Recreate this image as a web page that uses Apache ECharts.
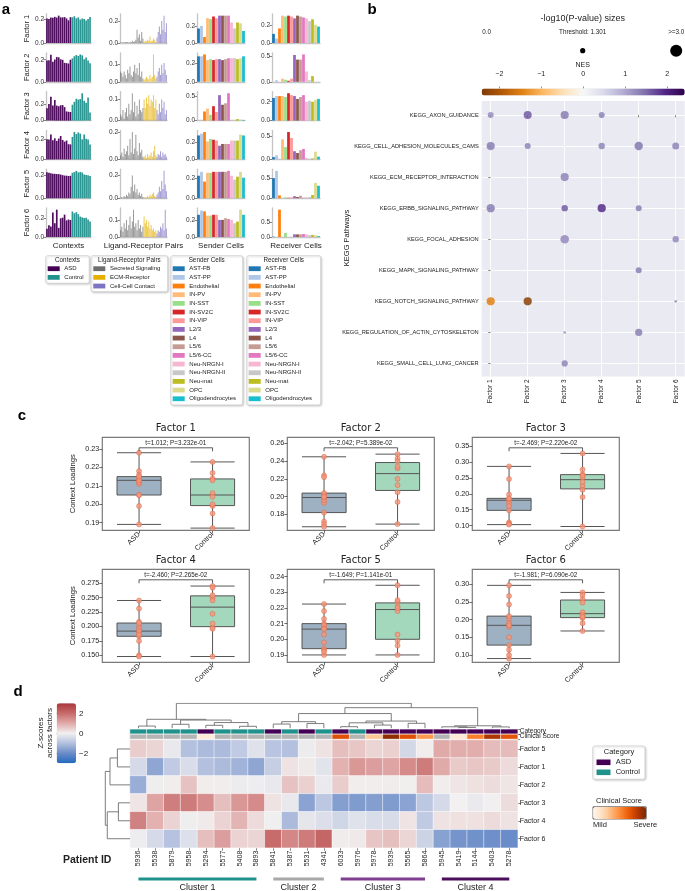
<!DOCTYPE html>
<html><head><meta charset="utf-8">
<script src="https://cdn.jsdelivr.net/npm/echarts@6/dist/echarts.min.js"></script>
<style>html,body{margin:0;padding:0;background:#fff}#c{width:685px;height:891px}</style>
</head><body><div id="c"></div>
<script>
// ================= DATA =================
const factorNames = ['Factor 1','Factor 2','Factor 3','Factor 4','Factor 5','Factor 6'];
const contextNames = ['ASD','Control'];
// context loadings per sample (panel a Contexts, panel c)
const asdF1 = [0.205,0.199,0.213,0.211,0.218,0.212,0.228,0.214,0.213,0.216,0.205,0.189,0.215];
const ctrlF1 = [0.214,0.223,0.206,0.213,0.195,0.204,0.199,0.187,0.200,0.217];
const asdF2 = [0.193,0.196,0.245,0.182,0.202,0.224,0.222,0.204,0.199,0.172,0.169,0.166,0.200];
const ctrlF2 = [0.213,0.232,0.243,0.234,0.248,0.240,0.205,0.220,0.194,0.169];
const asdF3 = [0.148,0.198,0.287,0.182,0.247,0.180,0.172,0.184,0.186,0.162,0.110,0.106,0.103];
const ctrlF3 = [0.190,0.225,0.262,0.252,0.258,0.328,0.238,0.213,0.277,0.097];
const asdF4 = [0.200,0.196,0.245,0.189,0.208,0.183,0.206,0.231,0.192,0.175,0.186,0.150,0.148];
const ctrlF4 = [0.222,0.270,0.250,0.267,0.254,0.198,0.245,0.205,0.196,0.148];
const asdF5 = [0.2225,0.218,0.213,0.210,0.209,0.207,0.2065,0.203,0.198,0.194,0.193,0.190,0.192];
const ctrlF5 = [0.218,0.224,0.2345,0.221,0.225,0.220,0.203,0.199,0.196,0.190];
const asdF6 = [0.090,0.128,0.115,0.267,0.150,0.297,0.100,0.203,0.210,0.243,0.180,0.190,0.184];
const ctrlF6 = [0.277,0.258,0.270,0.248,0.221,0.213,0.205,0.208,0.190,0.168];

const lrGroups = ['Secreted Signaling','ECM-Receptor','Cell-Cell Contact'];
const lrSecF1 = [0.005,0.004,0.006,0.005,0.008,0.006,0.01,0.005,0.007,0.01,0.02,0.01,0.015,0.03,0.12,0.05,0.08,0.02,0.1,0.04];
const lrEcmF1 = [0.01,0.02,0.015,0.03,0.02,0.06,0.015,0.02,0.04,0.03,0.01];
const lrCcF1 = [0.05,0.1,0.15,0.08,0.2,0.12,0.25,0.1,0.18];
const lrSecF2 = [0.06,0.05,0.03,0.06,0.04,0.02,0.07,0.05,0.09,0.04,0.03,0.06,0.1,0.05,0.08,0.04,0.11,0.03,0.06,0.02];
const lrEcmF2 = [0.01,0.02,0.03,0.02,0.015,0.04,0.02,0.03,0.16,0.04,0.02];
const lrCcF2 = [0.03,0.06,0.08,0.04,0.1,0.05,0.11,0.07,0.04];
const lrSecF3 = [0.03,0.02,0.05,0.01,0.04,0.06,0.02,0.08,0.03,0.05,0.13,0.04,0.09,0.02,0.07,0.03,0.1,0.05,0.04,0.06];
const lrEcmF3 = [0.1,0.06,0.11,0.08,0.12,0.07,0.1,0.09,0.12,0.06,0.1];
const lrCcF3 = [0.05,0.03,0.08,0.04,0.1,0.06,0.09,0.03,0.05];
const lrSecF4 = [0.03,0.05,0.02,0.08,0.04,0.06,0.1,0.03,0.15,0.05,0.2,0.04,0.08,0.18,0.06,0.03,0.12,0.05,0.07,0.02];
const lrEcmF4 = [0.02,0.03,0.01,0.04,0.02,0.03,0.05,0.02,0.06,0.1,0.03];
const lrCcF4 = [0.02,0.04,0.03,0.06,0.02,0.05,0.03,0.04,0.02];
const lrSecF5 = [0.005,0.01,0.005,0.02,0.01,0.03,0.02,0.05,0.04,0.1,0.2,0.06,0.12,0.05,0.08,0.03,0.05,0.02,0.04,0.01];
const lrEcmF5 = [0.005,0.01,0.005,0.02,0.01,0.03,0.02,0.04,0.05,0.02,0.01];
const lrCcF5 = [0.03,0.05,0.1,0.06,0.15,0.08,0.24,0.12,0.06];
const lrSecF6 = [0.04,0.06,0.03,0.08,0.05,0.1,0.04,0.07,0.12,0.05,0.09,0.16,0.06,0.08,0.04,0.1,0.05,0.07,0.03,0.06];
const lrEcmF6 = [0.12,0.08,0.1,0.06,0.09,0.05,0.07,0.04,0.05,0.03,0.04];
const lrCcF6 = [0.02,0.04,0.03,0.06,0.05,0.08,0.04,0.16,0.05];

const cellTypes = ['AST-FB','AST-PP','Endothelial','IN-PV','IN-SST','IN-SV2C','IN-VIP','L2/3','L4','L5/6','L5/6-CC','Neu-NRGN-I','Neu-NRGN-II','Neu-mat','OPC','Oligodendrocytes'];
const senderF1 = [0.17,0.20,0.07,0.29,0.28,0.31,0.29,0.32,0.32,0.32,0.32,0.24,0.17,0.24,0.23,0.14];
const senderF2 = [0.27,0.27,0.29,0.23,0.24,0.23,0.24,0.24,0.23,0.24,0.25,0.25,0.25,0.24,0.25,0.27];
const senderF3 = [0,0,0.19,0.25,0.12,0.30,0.18,0.53,0.33,0.36,0.57,0,0,0.03,0.02,0.01];
const senderF4 = [0.28,0.30,0.32,0.21,0.24,0.23,0.22,0.16,0.18,0.18,0.18,0.22,0.22,0.22,0.29,0.28];
const senderF5 = [0.23,0.27,0.17,0.26,0.26,0.27,0.27,0.27,0.27,0.27,0.28,0.23,0.19,0.22,0.27,0.21];
const senderF6 = [0.26,0.31,0.30,0.25,0.25,0.26,0.26,0.20,0.20,0.22,0.21,0.20,0.16,0.18,0.32,0.26];
const receiverF1 = [0.10,0.05,0.16,0.30,0.29,0.30,0.29,0.27,0.30,0.29,0.28,0.27,0.24,0.26,0.20,0.18];
const receiverF2 = [0,0.03,0,0.06,0.04,0.02,0.06,0.52,0.43,0.43,0.53,0.20,0.03,0.11,0,0];
const receiverF3 = [0.24,0.26,0.26,0.26,0.25,0.29,0.27,0.26,0.23,0.25,0.27,0.20,0.21,0.20,0.22,0.23];
const receiverF4 = [0.05,0.09,0,0.44,0.27,0.60,0.47,0.18,0.14,0.20,0.23,0.03,0,0.02,0.17,0.06];
const receiverF5 = [0.50,0.68,0.07,0,0.02,0.01,0.02,0.05,0.03,0.06,0.01,0.02,0.03,0.08,0.38,0.31];
const receiverF6 = [0.01,0,0.92,0,0.14,0,0,0.09,0.09,0.09,0.10,0.09,0.06,0.07,0.06,0.03];

const contextTicks = [0,0.2];
const lrTicks = [[0,0.2],[0,0.1],[0,0.1],[0,0.2],[0,0.2],[0,0.1]];
const senderTicks = [[0,0.2],[0,0.2],[0,0.5],[0,0.2],[0,0.2],[0,0.2]];
const receiverTicks = [[0,0.2],[0,0.5],[0,0.2],[0,0.5],[0,0.5],[0,0.5]];

// panel b
const pathways = ['KEGG_AXON_GUIDANCE','KEGG_CELL_ADHESION_MOLECULES_CAMS','KEGG_ECM_RECEPTOR_INTERACTION','KEGG_ERBB_SIGNALING_PATHWAY','KEGG_FOCAL_ADHESION','KEGG_MAPK_SIGNALING_PATHWAY','KEGG_NOTCH_SIGNALING_PATHWAY','KEGG_REGULATION_OF_ACTIN_CYTOSKELETON','KEGG_SMALL_CELL_LUNG_CANCER'];
// [factor index, pathway index, NES, -log10(P)]
const gseaDots = [
 [0,0,1.2,1.5],[1,0,1.6,2.0],[2,0,1.35,2.05],[3,0,1.3,1.5],[4,0,0.3,0.05],[5,0,0.5,0.2],
 [0,1,1.35,2.05],[1,1,1.3,1.5],[2,1,0.7,0.25],[3,1,1.3,1.6],[4,1,1.4,2.1],[5,1,1.3,1.75],
 [2,2,1.3,2.05],[5,2,0.4,0.15],
 [0,3,1.35,2.1],[2,3,1.6,1.6],[3,3,1.9,2.05],[4,3,1.35,1.5],
 [2,4,1.25,2.15],[5,4,1.25,1.6],
 [4,5,1.35,1.5],[3,5,0.5,0.1],
 [0,6,-1.45,2.05],[1,6,-2.3,2.05],[5,6,1.4,0.6],
 [2,7,1.3,0.6],[4,7,1.35,1.8],
 [2,8,1.3,1.55]];
const nesTicks = [-2,-1,0,1,2];
const sizeLegendLabels = ['0.0','Threshold: 1.301','>=3.0'];
const sizeLegendValues = [0.0,1.301,3.0];

// panel c
const tStats = ['t=1.012; P=3.232e-01','t=-2.042; P=5.389e-02','t=-2.469; P=2.220e-02','t=-2.460; P=2.265e-02','t=-1.649; P=1.141e-01','t=-1.981; P=6.090e-02'];
const boxTicks = [[0.19,0.20,0.21,0.22,0.23],[0.18,0.20,0.22,0.24,0.26],[0.10,0.15,0.20,0.25,0.30,0.35],[0.150,0.175,0.200,0.225,0.250,0.275],[0.19,0.20,0.21,0.22,0.23,0.24],[0.10,0.15,0.20,0.25,0.30]];
const boxTickDecimals = [2,2,2,3,2,2];
const boxAxisMin = [0.1858,0.162,0.085,0.138,0.1853,0.0794];
const boxAxisMax = [0.2364,0.267,0.379,0.299,0.2447,0.3424];

// panel d
const patientIds = ['5936','5538','5879','5958','5294','5577','5408','5893','5841','5387','5531','4341','6033','5976','5978','5939','5565','5864','5945','5419','5144','5403','5278'];
const patientCategory = ['Control','Control','Control','Control','ASD','Control','Control','Control','ASD','Control','ASD','Control','ASD','Control','ASD','ASD','ASD','ASD','ASD','ASD','ASD','ASD','ASD'];
const clinicalScore = [null,null,null,null,0.08,null,null,null,null,null,null,null,0.72,null,0.28,0.95,0.72,0.45,null,0.1,0.55,0.86,0.7];
const heatRowOrder = ['Factor 5','Factor 1','Factor 2','Factor 3','Factor 4','Factor 6'];
const zF1 = [-0.45,-1.5,-0.8,-0.4,-1.0,-1.1,-1.25,-1.5,-0.7,0.2,0.1,-0.25,0.9,1.3,1.2,1.1,1.5,1.75,1.0,0.55,0.6,0.55,0.3];
const zF2 = [-1.35,-0.05,0.05,0.65,0.05,0.05,-0.1,-0.08,-0.15,0.65,0.45,-0.12,0.5,0.05,0.04,0.06,0.03,0.75,0.05,0.15,0.22,0.28,0.15];
const zF3 = [0.15,1.1,1.7,1.75,1.45,0.7,1.3,1.5,0.2,-0.15,-1.55,-0.85,-1.65,-1.7,-1.65,-1.7,-1.55,-0.85,-0.45,0.0,-0.12,-0.02,0.28];
const zF4 = [1.65,0.9,0.42,-0.05,0.08,0.42,0.85,0.3,-0.03,-1.1,-0.2,-0.35,-0.55,-0.3,-0.4,-0.42,0.18,-0.8,0.2,0.22,0.22,0.3,0.2];
const zF5 = [0.5,0.4,-0.15,-1.0,-1.1,-1.1,-0.8,-0.3,-0.9,-1.0,-0.1,0.2,0.7,0.6,0.4,0.45,-0.5,0.05,1.0,0.95,0.95,0.75,0.75];
const zF6 = [-0.08,-0.45,-0.95,-0.33,0.7,1.2,0.42,0.4,2.0,1.55,1.75,2.1,0.06,0.1,0.62,0.7,0.38,-0.6,-1.6,-1.85,-1.9,-1.95,-2.0];
const zTicks = [-2,0,2];
// dendrogram linkages: [childA, childB, height] (scipy-style node numbering)
const colMerges = [[0,1,0.9],[2,3,1.6],[4,5,1.2],[6,7,0.8],[25,26,2.3],[24,27,3.3],[23,28,3.6],[8,9,1.7],[10,11,1.9],[30,31,2.65],[12,13,0.65],[14,15,1.3],[33,34,2.2],[16,17,2.0],[35,36,2.9],[32,37,5.9],[19,20,0.35],[18,39,0.6],[21,22,0.55],[40,41,1.0],[38,42,8.25],[29,43,10]];
const rowMerges = [[0,1,5.1],[6,2,8.1],[3,4,4.7],[8,5,9.2],[7,9,10]];
const clusterNames = ['Cluster 1','Cluster 2','Cluster 3','Cluster 4'];
const clusterFirst = [0,8,12,18];
const clusterLast = [7,11,17,22];

// ================= STYLE =================
const ASD_COLOR = '#440154', CTRL_COLOR = '#21918c';
const lrColors = ['#6f6f6f','#e6b000','#7d74c2'];
const cellColors = ['#1f77b4','#aec7e8','#ff7f0e','#ffbb78','#98df8a','#d62728','#ff9896','#9467bd','#8c564b','#c49c94','#e377c2','#f7b6d2','#c7c7c7','#bcbd22','#dbdb8d','#17becf'];
const PUOR = ['#7f3b08','#b35806','#e08214','#fdb863','#fee0b6','#f7f7f7','#d8daeb','#b2abd2','#8073ac','#542788','#2d004b'];
const VLAG = ['#2369bd','#6a8cc8','#b3c0de','#f2f0f0','#e0aaa9','#c86b6b','#a9373b'];
const ORANGES = ['#fff5eb','#fee6ce','#fdd0a2','#fdae6b','#fd8d3c','#f16913','#d94801','#a63603','#7f2704'];
const clusterColors = ['#21918c','#a8a8a8','#7e3f91','#4b0e5c'];
const FONT = 'Liberation Sans';

// ================= BUILD =================
const grids=[], xAxes=[], yAxes=[], series=[], graphics=[], visualMaps=[];
function addGrid(g, xa, ya){
  const i = grids.length;
  grids.push(Object.assign({show:false, containLabel:false}, g));
  xAxes.push(Object.assign({gridIndex:i}, xa));
  yAxes.push(Object.assign({gridIndex:i}, ya));
  return i;
}
function txt(x, y, text, size, o){
  o = o || {};
  return {type:'text', x:x, y:y, rotation:o.rot||0, silent:true, z:10,
    style:{text:text, fill:o.color||'#222', font:(o.weight||'normal')+' '+size+'px "'+(o.family||FONT)+'"',
      textAlign:o.align||'left', align:o.align||'left', textVerticalAlign:'middle', verticalAlign:'middle'}};
}
const minusFmt = v => (v < 0 ? '\u2212' + Math.abs(v) : String(v));

const asdLoad = [asdF1,asdF2,asdF3,asdF4,asdF5,asdF6];
const ctrlLoad = [ctrlF1,ctrlF2,ctrlF3,ctrlF4,ctrlF5,ctrlF6];
const lrSec = [lrSecF1,lrSecF2,lrSecF3,lrSecF4,lrSecF5,lrSecF6];
const lrEcm = [lrEcmF1,lrEcmF2,lrEcmF3,lrEcmF4,lrEcmF5,lrEcmF6];
const lrCc = [lrCcF1,lrCcF2,lrCcF3,lrCcF4,lrCcF5,lrCcF6];
const senders = [senderF1,senderF2,senderF3,senderF4,senderF5,senderF6];
const receivers = [receiverF1,receiverF2,receiverF3,receiverF4,receiverF5,receiverF6];

// ---------- Panel a ----------
const A_COL_LEFT=[46,120,197,272], A_COL_W=[45,47,48,48], A_TOP0=14, A_STEP=38.8, A_H=29;
const spine = {show:true, lineStyle:{color:'#c4c4c4', width:1.3}};
for (let r=0;r<6;r++){
  const top = A_TOP0 + r*A_STEP;
  const cols = [
    {vals: asdLoad[r].concat(ctrlLoad[r]), colors: asdLoad[r].map(()=>ASD_COLOR).concat(ctrlLoad[r].map(()=>CTRL_COLOR)), ticks: contextTicks, gap:'14%', op:0.95},
    {vals: lrSec[r].concat(lrEcm[r], lrCc[r]), colors: lrSec[r].map(()=>lrColors[0]).concat(lrEcm[r].map(()=>lrColors[1]), lrCc[r].map(()=>lrColors[2])), ticks: lrTicks[r], gap:'25%', op:0.7},
    {vals: senders[r], colors: cellColors, ticks: senderTicks[r], gap:'8%', op:1},
    {vals: receivers[r], colors: cellColors, ticks: receiverTicks[r], gap:'8%', op:1}
  ];
  cols.forEach((cd,c)=>{
    const gi = addGrid({left:A_COL_LEFT[c], top:top, width:A_COL_W[c], height:A_H},
      {type:'category', data: cd.vals.map((_,i)=>i), axisLine: spine, axisTick:{show:false}, axisLabel:{show:false}, splitLine:{show:false}},
      {type:'value', min:0, max: v => v.max*1.06, axisLine: spine, splitLine:{show:false},
        axisTick:{show:true, length:2.5, customValues: cd.ticks, lineStyle:{color:'#555', width:0.7}},
        axisLabel:{customValues: cd.ticks, formatter: v => v.toFixed(1), fontSize:6.5, color:'#333', margin:2},
        name: c===0 ? factorNames[r] : '', nameLocation:'middle', nameGap:15.5, nameRotate:90,
        nameTextStyle:{fontSize:7.5, color:'#222'}});
    series.push({type:'bar', xAxisIndex:gi, yAxisIndex:gi, barCategoryGap: cd.gap, silent:true,
      data: cd.vals.map((v,i)=>({value:v, itemStyle:{color:cd.colors[i], opacity:cd.op}}))});
  });
}
const aTitles = ['Contexts','Ligand-Receptor Pairs','Sender Cells','Receiver Cells'];
aTitles.forEach((t,c)=>graphics.push(txt(A_COL_LEFT[c]+A_COL_W[c]/2, 245.5, t, 8, {align:'center'})));

function legendBox(x, y, w, h, title, names, colors, swX, txX){
  graphics.push({type:'rect', silent:true, z:5, shape:{x:x, y:y, width:w, height:h, r:2},
    style:{fill:'#fff', stroke:'#cfcfcf', lineWidth:0.8, shadowBlur:2, shadowColor:'rgba(0,0,0,0.18)', shadowOffsetX:1, shadowOffsetY:1}});
  graphics.push(txt(x+w/2, y+4.6, title, 6.3, {align:'center'}));
  names.forEach((n,i)=>{
    const cy = y + 13 + i*8.67;
    graphics.push({type:'rect', silent:true, z:10, shape:{x:swX, y:cy-2.4, width:12, height:4.8}, style:{fill:colors[i]}});
    graphics.push(txt(txX, cy, n, 6));
  });
}
legendBox(45.7, 255.7, 43.6, 27.6, 'Contexts', contextNames, [ASD_COLOR, CTRL_COLOR], 47.7, 64.3);
legendBox(91, 255.7, 76.7, 36, 'Ligand-Receptor Pairs', lrGroups, lrColors, 93.3, 110);
legendBox(170.7, 255.7, 72, 149.3, 'Sender Cells', cellTypes, cellColors, 172.7, 189.3);
legendBox(246.7, 255.7, 74, 149.3, 'Receiver Cells', cellTypes, cellColors, 248.7, 265.3);

// ---------- Panel b ----------
const B_LEFT=481.7, B_TOP=101, B_W=203, B_H=275.5;
const dotSize = p => 12*Math.min(p,3)/3;
const gb = addGrid({left:B_LEFT, top:B_TOP, width:B_W, height:B_H, show:true, backgroundColor:'#eaeaf2', borderWidth:0},
  {type:'value', min:-0.243, max:5.243, splitNumber:6, axisLine:{show:false},
    axisTick:{show:true, length:2.5, customValues:[0,1,2,3,4,5], lineStyle:{color:'#444', width:0.6}},
    axisLabel:{customValues:[0,1,2,3,4,5], formatter: v => factorNames[Math.round(v)], rotate:90, fontSize:6.5, color:'#222', margin:3},
    splitLine:{show:true, lineStyle:{color:'#fff', width:0.9}}},
  {type:'value', inverse:true, min:-0.45, max:8.42, splitNumber:9, axisLine:{show:false},
    axisTick:{show:true, length:2.5, customValues:[0,1,2,3,4,5,6,7,8], lineStyle:{color:'#444', width:0.6}},
    axisLabel:{customValues:[0,1,2,3,4,5,6,7,8], formatter: v => pathways[Math.round(v)], fontSize:5.7, color:'#222', margin:3},
    splitLine:{show:true, lineStyle:{color:'#fff', width:0.9}}});
const dotSeriesIndex = series.length;
series.push({type:'scatter', xAxisIndex:gb, yAxisIndex:gb, data:gseaDots, encode:{x:0, y:1},
  symbolSize: v => dotSize(v[3]), itemStyle:{opacity:0.85}, silent:true});
visualMaps.push({type:'continuous', seriesIndex:dotSeriesIndex, dimension:2, min:-2.42, max:2.42,
  inRange:{color:PUOR}, orient:'horizontal', left:B_LEFT, top:88.5, itemWidth:7, itemHeight:B_W,
  calculable:false, padding:0, text:null});
addGrid({left:B_LEFT, top:79.5, width:B_W, height:9},
  {type:'value', position:'top', min:-2.42, max:2.42, axisLine:{show:false},
    axisTick:{show:true, length:2, customValues:nesTicks, lineStyle:{color:'#444', width:0.6}},
    axisLabel:{customValues:nesTicks, formatter:minusFmt, fontSize:7, color:'#222', margin:2}, splitLine:{show:false}},
  {type:'value', show:false, min:0, max:1});
graphics.push(txt(582.7, 18.5, '-log10(P-value) sizes', 9, {align:'center'}));
const sizeLegendX = [486.7, 582.7, 676.2];
sizeLegendLabels.forEach((l,i)=>{
  graphics.push(txt(sizeLegendX[i], 32, l, 6.3, {align:'center'}));
  const d = dotSize(sizeLegendValues[i]);
  if (d > 0) graphics.push({type:'circle', silent:true, z:10, shape:{cx:sizeLegendX[i], cy:50.7, r:d/2}, style:{fill:'#000'}});
});
graphics.push(txt(582.7, 65.5, 'NES', 7, {align:'center'}));
graphics.push(txt(346.5, 238, 'KEGG Pathways', 7.5, {align:'center', rot:Math.PI/2}));

// ---------- Panel c ----------
function quantile(s, q){ const pos=(s.length-1)*q, lo=Math.floor(pos), hi=Math.ceil(pos); return s[lo]+(s[hi]-s[lo])*(pos-lo); }
function boxStats(arr){ const s=arr.slice().sort((a,b)=>a-b); return [s[0], quantile(s,0.25), quantile(s,0.5), quantile(s,0.75), s[s.length-1]]; }
const C_LEFT=[102.3,287.3,472.3], C_TOP=[437.3,569.3], C_W=147, C_H=93;
for (let f=0; f<6; f++){
  const col=f%3, row=Math.floor(f/3), left=C_LEFT[col], top=C_TOP[row];
  const gi = addGrid({left:left, top:top, width:C_W, height:C_H, show:true, borderColor:'#7a7a7a', borderWidth:1.2, backgroundColor:'rgba(0,0,0,0)'},
    {type:'category', data:contextNames, axisLine:{show:false},
      axisTick:{show:true, alignWithLabel:true, length:3, lineStyle:{color:'#333', width:0.7}},
      axisLabel:{rotate:45, fontSize:7.2, color:'#222', margin:3}},
    {type:'value', min:boxAxisMin[f], max:boxAxisMax[f], axisLine:{show:false}, splitLine:{show:false},
      axisTick:{show:true, length:3, customValues:boxTicks[f], lineStyle:{color:'#333', width:0.7}},
      axisLabel:{customValues:boxTicks[f], formatter: v => v.toFixed(boxTickDecimals[f]), fontSize:7.2, color:'#222', margin:3},
      name: col===0 ? 'Context Loadings' : '', nameLocation:'middle', nameGap:25.5, nameTextStyle:{fontSize:7.6, color:'#222'}});
  series.push({type:'boxplot', xAxisIndex:gi, yAxisIndex:gi, boxWidth:['60%','60%'], silent:true,
    itemStyle:{borderWidth:1},
    data:[{value:boxStats(asdLoad[f]), itemStyle:{color:'#9db1c2', borderColor:'#555'}},
          {value:boxStats(ctrlLoad[f]), itemStyle:{color:'#a4d8bd', borderColor:'#555'}}]});
  series.push({type:'scatter', xAxisIndex:gi, yAxisIndex:gi, silent:true, z:5, symbolSize:5,
    itemStyle:{color:'#f5977b', borderColor:'#d6664a', borderWidth:0.6},
    data: asdLoad[f].map(v=>[0,v]).concat(ctrlLoad[f].map(v=>[1,v]))});
  const xa = left + C_W*0.25, xc = left + C_W*0.75, yb = top + 10.5;
  graphics.push({type:'polyline', silent:true, z:10, shape:{points:[[xa,yb+3.5],[xa,yb],[xc,yb],[xc,yb+3.5]]}, style:{stroke:'#333', lineWidth:0.8, fill:null}});
  graphics.push(txt(left + C_W/2, top+5.6, tStats[f], 6.3, {align:'center'}));
  graphics.push(txt(left + C_W/2, top-8.5, factorNames[f], 10, {align:'center', family:'DejaVu Sans'}));
}

// ---------- Panel d ----------
const HM_LEFT=130, HM_W=387.7, HM_TOP=740, HM_H=107.7, NCOL=patientIds.length;
const colW = HM_W/NCOL;
const zByFactor = {'Factor 1':zF1,'Factor 2':zF2,'Factor 3':zF3,'Factor 4':zF4,'Factor 5':zF5,'Factor 6':zF6};
const stripY = (name, margin) => ({type:'category', data:[name], position:'right', axisLine:{show:false},
  axisTick:{show:true, length:2.5, lineStyle:{color:'#333', width:0.6}}, axisLabel:{fontSize:6.5, color:'#222', margin:margin}});
// category strip
const gcat = addGrid({left:HM_LEFT, top:729.3, width:HM_W, height:4.6},
  {type:'category', data:patientIds, show:false}, stripY('Category', 2));
series.push({type:'heatmap', xAxisIndex:gcat, yAxisIndex:gcat, silent:true, itemStyle:{borderColor:'#fff', borderWidth:0.6},
  data: patientCategory.map((c,i)=>({value:[i,0,1], itemStyle:{color: c==='ASD' ? ASD_COLOR : CTRL_COLOR}}))});
// clinical strip
const gcl = addGrid({left:HM_LEFT, top:734.4, width:HM_W, height:4.6},
  {type:'category', data:patientIds, show:false}, stripY('Clinical Score', 2));
series.push({type:'heatmap', xAxisIndex:gcl, yAxisIndex:gcl, silent:true, itemStyle:{color:'#b4b4b4', borderColor:'#fff', borderWidth:0.6},
  data: clinicalScore.map((s,i)=>s===null ? {value:[i,0,0], itemStyle:{color:'#b4b4b4'}} : null).filter(d=>d)});
const clinIdx = series.length;
series.push({type:'heatmap', xAxisIndex:gcl, yAxisIndex:gcl, silent:true, itemStyle:{borderColor:'#fff', borderWidth:0.6},
  data: clinicalScore.map((s,i)=>s===null ? null : [i,0,s]).filter(d=>d)});
visualMaps.push({type:'continuous', seriesIndex:clinIdx, dimension:2, min:0, max:1, inRange:{color:ORANGES},
  orient:'horizontal', left:592.7, top:806.5, itemWidth:12, itemHeight:53, calculable:false, padding:0, text:null,
  borderColor:'#222', borderWidth:0.8});
// main heatmap
const ghm = addGrid({left:HM_LEFT, top:HM_TOP, width:HM_W, height:HM_H},
  {type:'category', data:patientIds, axisLine:{show:false},
    axisTick:{show:true, length:3, alignWithLabel:true, lineStyle:{color:'#333', width:0.6}},
    axisLabel:{interval:0, rotate:90, fontSize:7, color:'#222', margin:3}},
  {type:'category', data:heatRowOrder, inverse:true, position:'right', axisLine:{show:false},
    axisTick:{show:true, length:3, alignWithLabel:true, lineStyle:{color:'#333', width:0.6}},
    axisLabel:{fontSize:7, color:'#222', margin:2}});
const hmIdx = series.length;
const hmData = [];
heatRowOrder.forEach((name,r)=>zByFactor[name].forEach((z,c)=>hmData.push([c,r,z])));
series.push({type:'heatmap', xAxisIndex:ghm, yAxisIndex:ghm, silent:true, data:hmData, itemStyle:{borderColor:'#fff', borderWidth:0.5}});
visualMaps.push({type:'continuous', seriesIndex:hmIdx, dimension:2, min:-3, max:3, inRange:{color:VLAG},
  orient:'vertical', left:56.7, top:703.3, itemWidth:19.3, itemHeight:60, calculable:false, padding:0, text:null});
addGrid({left:56.7, top:703.3, width:19.3, height:60},
  {type:'value', show:false, min:0, max:1},
  {type:'value', position:'right', min:-3, max:3, axisLine:{show:false}, splitLine:{show:false},
    axisTick:{show:true, length:3, customValues:zTicks, lineStyle:{color:'#333', width:0.7}},
    axisLabel:{customValues:zTicks, formatter:minusFmt, fontSize:8, color:'#222', margin:3}});
graphics.push(txt(40.5, 733, 'Z-scores', 8, {align:'center', rot:Math.PI/2}));
graphics.push(txt(50, 733, 'across factors', 8, {align:'center', rot:Math.PI/2}));

// dendrograms
function dendro(n, merges){
  const pos=[], h=[];
  for (let i=0;i<n;i++){ pos.push(i); h.push(0); }
  const segs=[];
  merges.forEach(m=>{ const a=m[0], b=m[1], hh=m[2];
    segs.push([[pos[a],h[a]],[pos[a],hh],[pos[b],hh],[pos[b],h[b]]]);
    pos.push((pos[a]+pos[b])/2); h.push(hh); });
  return segs;
}
const gdt = addGrid({left:HM_LEFT, top:703.3, width:HM_W, height:25},
  {type:'value', show:false, min:-0.5, max:NCOL-0.5}, {type:'value', show:false, min:0, max:10});
series.push({type:'lines', coordinateSystem:'cartesian2d', xAxisIndex:gdt, yAxisIndex:gdt, polyline:true, silent:true,
  lineStyle:{color:'#6e6e6e', width:0.9, opacity:1},
  data: dendro(NCOL, colMerges).map(s=>({coords:s}))});
const gdl = addGrid({left:105.3, top:HM_TOP, width:24.7, height:HM_H},
  {type:'value', show:false, min:0, max:10, inverse:true}, {type:'value', show:false, min:-0.5, max:heatRowOrder.length-0.5, inverse:true});
series.push({type:'lines', coordinateSystem:'cartesian2d', xAxisIndex:gdl, yAxisIndex:gdl, polyline:true, silent:true,
  lineStyle:{color:'#6e6e6e', width:0.9, opacity:1},
  data: dendro(heatRowOrder.length, rowMerges).map(s=>({coords:s.map(p=>[p[1],p[0]])}))});

// cluster bars
clusterNames.forEach((n,k)=>{
  const x1 = HM_LEFT + colW*(clusterFirst[k]+0.5), x2 = HM_LEFT + colW*(clusterLast[k]+0.5);
  graphics.push({type:'rect', silent:true, z:10, shape:{x:x1, y:877.5, width:x2-x1, height:3}, style:{fill:clusterColors[k]}});
  graphics.push(txt((x1+x2)/2, 887.5, n, 9, {align:'center'}));
});
graphics.push(txt(63, 860, 'Patient ID', 10.5, {weight:'bold'}));

// category legend
graphics.push({type:'rect', silent:true, z:5, shape:{x:592.7, y:746, width:52.3, height:33.3, r:2},
  style:{fill:'#fff', stroke:'#cfcfcf', lineWidth:0.8, shadowBlur:2, shadowColor:'rgba(0,0,0,0.18)', shadowOffsetX:1, shadowOffsetY:1}});
graphics.push(txt(619, 751.7, 'Category', 7.5, {align:'center'}));
contextNames.forEach((n,i)=>{
  const cy = 762.3 + i*10;
  graphics.push({type:'rect', silent:true, z:10, shape:{x:596.5, y:cy-2.8, width:14, height:5.6}, style:{fill: i===0 ? ASD_COLOR : CTRL_COLOR}});
  graphics.push(txt(615.7, cy, n, 7.5));
});
graphics.push(txt(619, 801.3, 'Clinical Score', 7.5, {align:'center'}));
graphics.push(txt(600, 825.3, 'Mild', 7.5, {align:'center'}));
graphics.push(txt(645.3, 825.3, 'Severe', 7.5, {align:'center'}));

// panel letters
[['a',6,10],['b',372,10],['c',22,416],['d',18,692]].forEach(p=>graphics.push(txt(p[1], p[2], p[0], 15, {weight:'bold', align:'center', color:'#000'})));

const chart = echarts.init(document.getElementById('c'), null, {renderer:'canvas', width:685, height:891});
chart.setOption({
  animation:false, backgroundColor:'#fff',
  textStyle:{fontFamily:FONT},
  grid:grids, xAxis:xAxes, yAxis:yAxes, series:series, visualMap:visualMaps,
  graphic:{elements:graphics}
});
</script></body></html>
